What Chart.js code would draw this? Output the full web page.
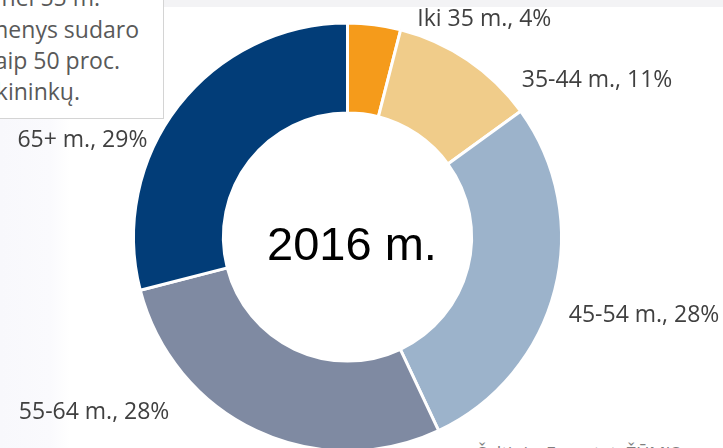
<!DOCTYPE html>
<html>
<head>
<meta charset="utf-8">
<script src="https://cdn.jsdelivr.net/npm/chart.js@4"></script>
<style>
  html, body { margin: 0; padding: 0; background: #fff; overflow: hidden; }
  #wrap { position: relative; width: 723px; height: 448px; overflow: hidden;
    background: linear-gradient(90deg, #f8f8fc 0px, #fafafd 50px, #fff 70px, #fff 100%); }
  #topband { position: absolute; left: 163px; top: 0; width: 560px; height: 7px; background: #f3f3f5; }
  #note { position: absolute; left: -40px; top: -30px; width: 202px; height: 147px;
    background: #fff; border: 1px solid #d4d4d4; }
  .ln { position: absolute; white-space: nowrap; font-family: "Open Sans", sans-serif;
    font-size: 23px; color: #595959; line-height: 30px; }
  #src { position: absolute; left: 477px; top: 441px; white-space: nowrap;
    font-family: "Open Sans", sans-serif; font-size: 18px; color: #7f7f7f; }
  canvas { position: absolute; left: 0; top: 0; }
</style>
</head>
<body>
<div id="wrap">
  <div id="topband"></div>
  <div id="note"></div>
  <div class="ln" style="right:623px; top:-18px;">Vyresni nei 55 m.</div>
  <div class="ln" style="right:584px; top:14px;">asmenys sudaro</div>
  <div class="ln" style="right:603px; top:45px;">daugiau kaip 50 proc.</div>
  <div class="ln" style="right:643px; top:76px;">ūkininkų.</div>
  <div id="src">Šaltinis: Eurostat, ŽŪMIS</div>
  <canvas id="canvas_chart01" width="723" height="448"></canvas>
</div>
<script>
const categories = ['Iki 35 m.', '35-44 m.', '45-54 m.', '55-64 m.', '65+ m.'];
const shares = [4, 11, 28, 28, 29];
const centerTitle = '2016 m.';

const sliceColors = ['#F59B1B', '#F0CC8A', '#9CB3CB', '#7F8AA2', '#023D78'];
// label anchor offsets from the slice's outer midpoint, and text alignment
const labelShift = [[43, -5], [54, 20], [14, 25], [-87, -18], [-31, 35]];
const labelAlign = ['left', 'left', 'left', 'right', 'right'];

const ctx01 = document.getElementById('canvas_chart01');

const outsideLabels = {
    id: 'outsideLabels',
    afterDatasetsDraw(chart) {
        const c = chart.ctx;
        const arcs = chart.getDatasetMeta(0).data;
        c.save();
        c.font = '23px "Open Sans"';
        c.fillStyle = '#404040';
        c.textBaseline = 'middle';
        arcs.forEach((arc, i) => {
            const mid = (arc.startAngle + arc.endAngle) / 2;
            const px = arc.x + Math.cos(mid) * arc.outerRadius + labelShift[i][0];
            const py = arc.y + Math.sin(mid) * arc.outerRadius + labelShift[i][1];
            c.textAlign = labelAlign[i];
            c.fillText(categories[i] + ', ' + shares[i] + '%', px, py);
        });
        // centre title
        const a = arcs[0];
        c.font = '47px "Liberation Sans"';
        c.fillStyle = '#000';
        c.textAlign = 'center';
        c.fillText(centerTitle, a.x + 4.5, a.y + 10);
        c.restore();
    }
};

new Chart(ctx01, {
    type: 'doughnut',
    data: {
        labels: categories,
        datasets: [{
            data: shares,
            backgroundColor: sliceColors,
            borderColor: '#ffffff',
            borderWidth: 3,
            hoverOffset: 0
        }]
    },
    options: {
        responsive: false,
        animation: false,
        radius: 214,
        cutout: '58%',
        layout: {
            padding: { left: 0, right: 28, top: 26, bottom: 0 }
        },
        plugins: {
            legend: { display: false },
            tooltip: { enabled: false }
        }
    },
    plugins: [outsideLabels]
});
</script>
</body>
</html>
